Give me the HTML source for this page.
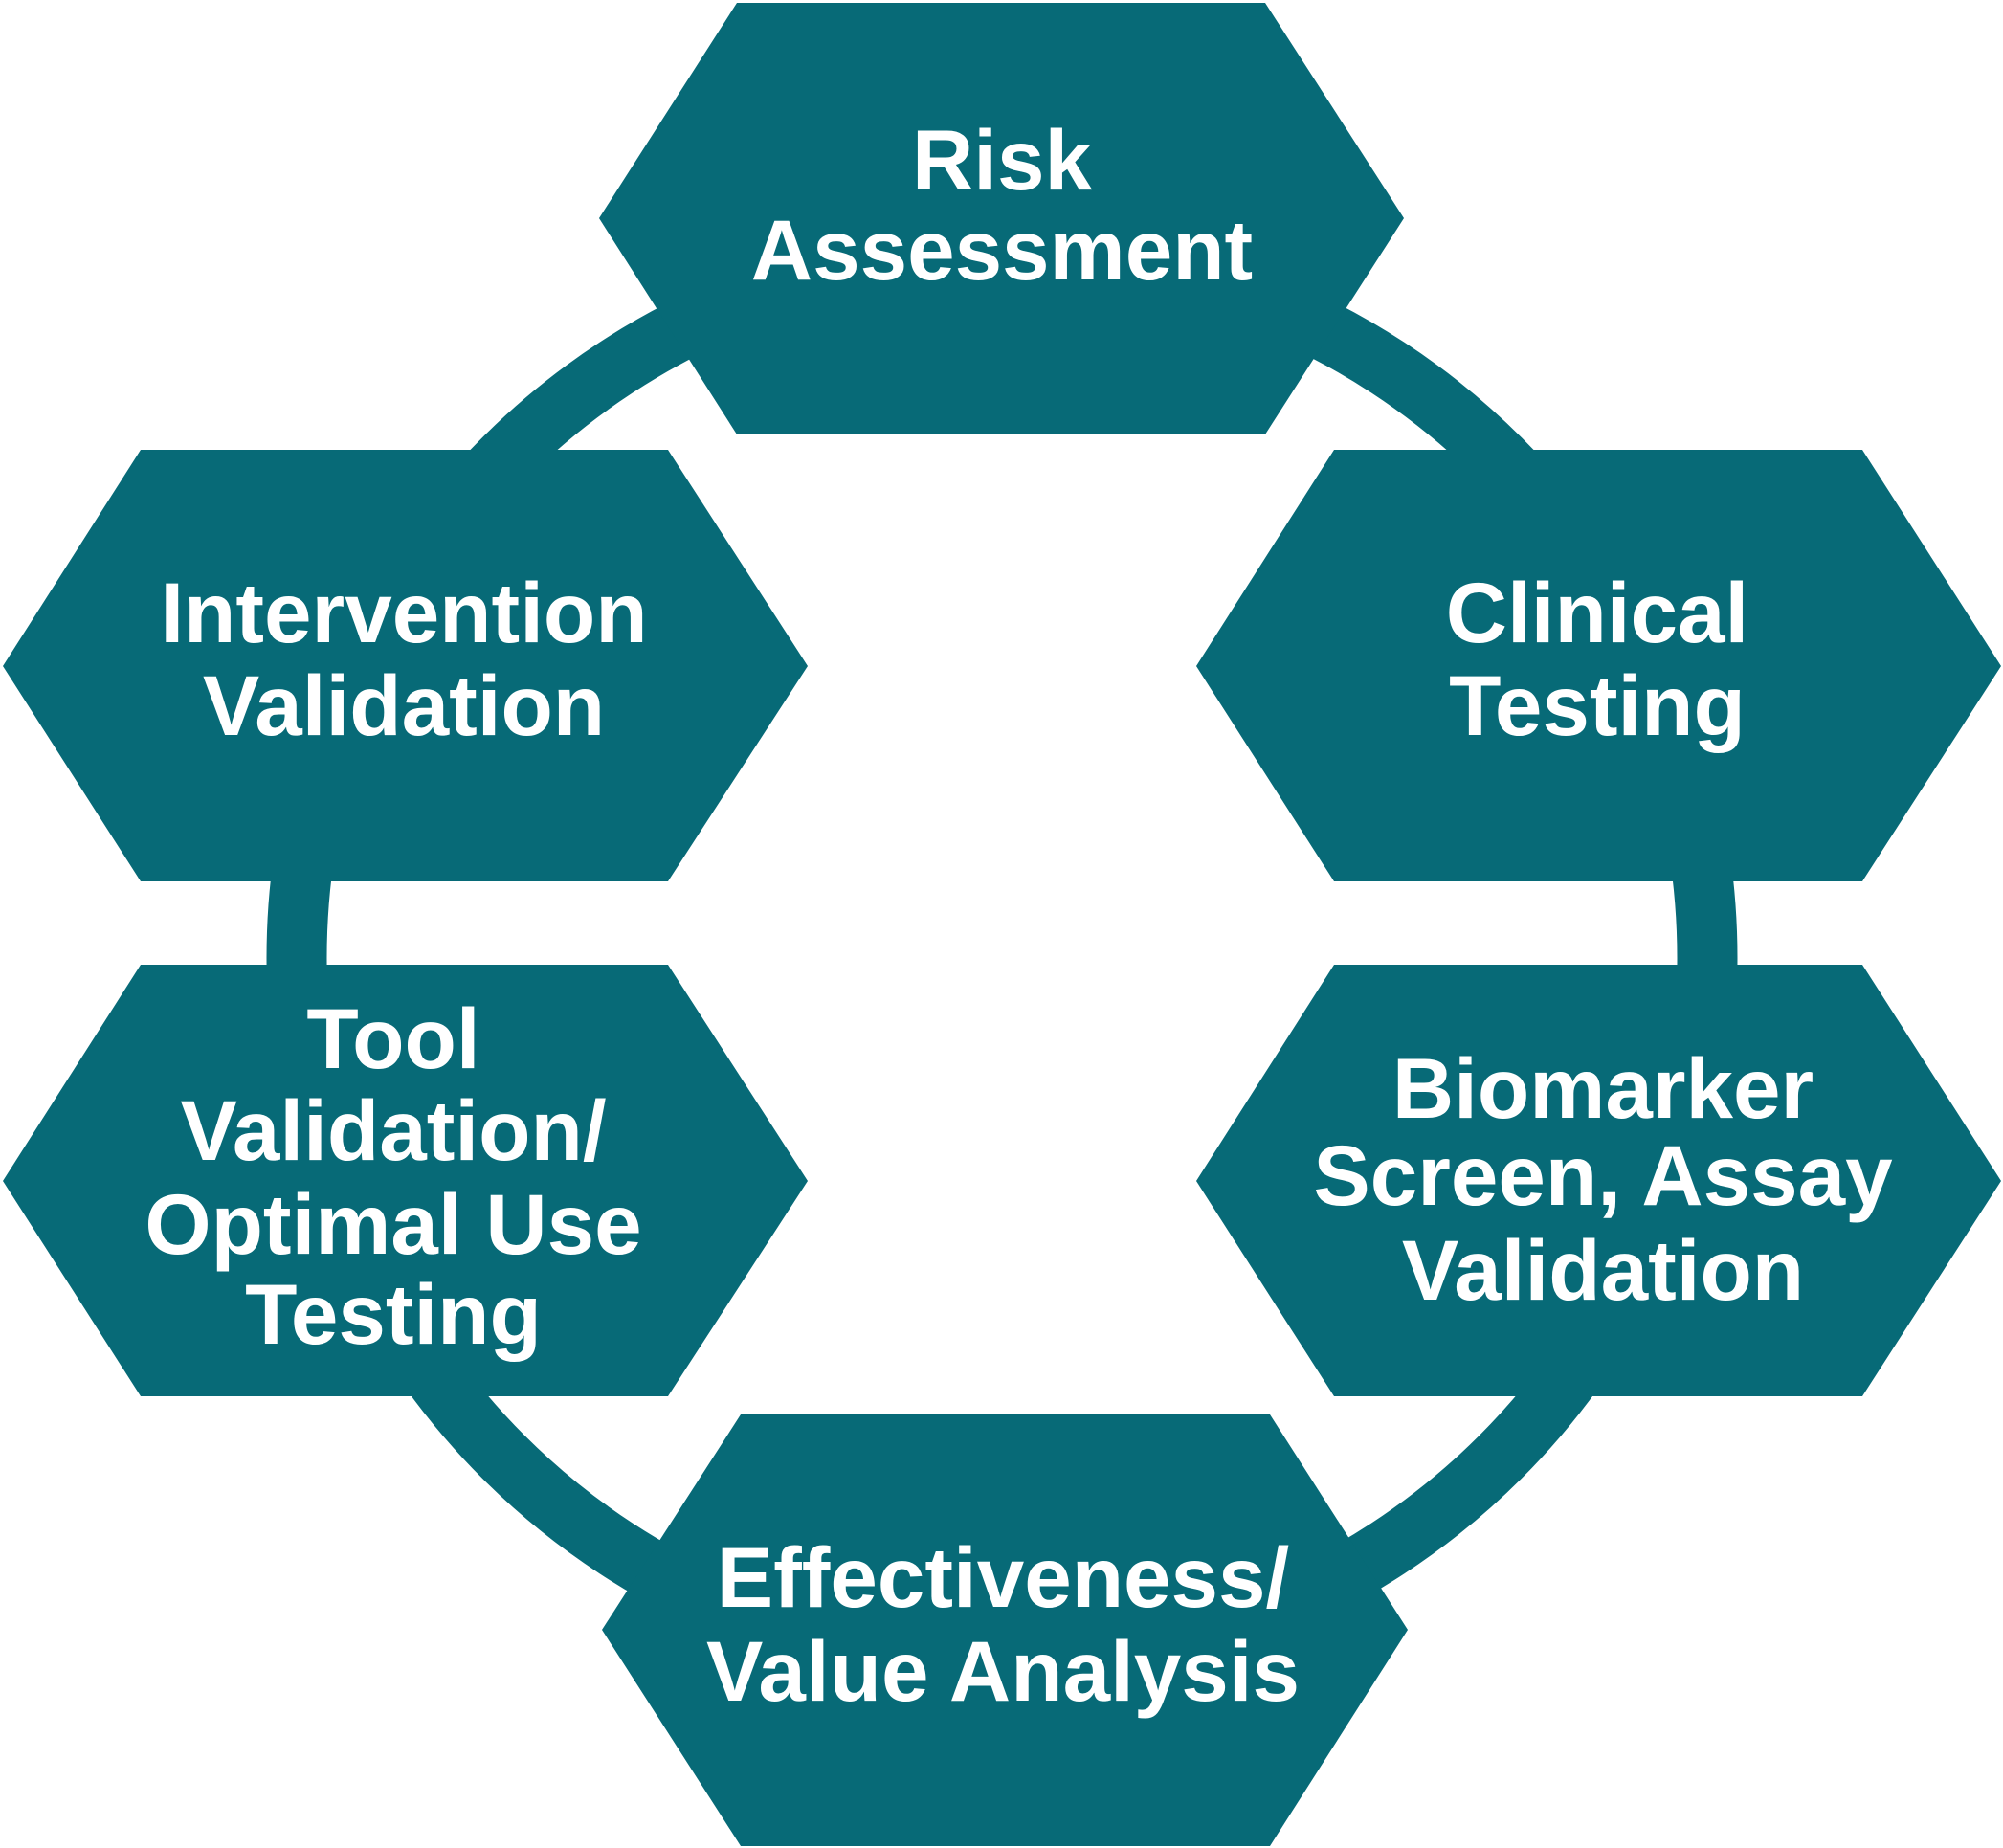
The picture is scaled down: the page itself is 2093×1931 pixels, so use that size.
<!DOCTYPE html>
<html><head><meta charset="utf-8"><style>html,body{margin:0;padding:0;background:#fff}svg{display:block}</style></head>
<body>
<svg width="2093" height="1931" viewBox="0 0 2093 1931" xmlns="http://www.w3.org/2000/svg">
<circle cx="1047" cy="1001" r="737" fill="none" stroke="#076a77" stroke-width="63"/>
<g fill="#076a77">
<polygon points="770,3 1322,3 1467,228 1322,454 770,454 626,228"/>
<polygon points="147,470 698,470 844,696 698,921 147,921 3,696"/>
<polygon points="1394,470 1946,470 2091,696 1946,921 1394,921 1250,696"/>
<polygon points="147,1008 698,1008 844,1234 698,1459 147,1459 3,1234"/>
<polygon points="1394,1008 1946,1008 2091,1234 1946,1459 1394,1459 1250,1234"/>
<polygon points="774,1478 1327,1478 1471,1703 1327,1929 774,1929 629,1703"/>
</g>
<g fill="#fff" font-family="Liberation Sans, sans-serif" font-weight="bold" font-size="89" text-anchor="middle">
<text x="1047" y="198">Risk</text><text x="1047" y="292">Assessment</text>
<text x="422" y="671">Intervention</text><text x="422" y="768">Validation</text>
<text x="1669" y="671">Clinical</text><text x="1669" y="768">Testing</text>
<text x="411" y="1116">Tool</text><text x="411" y="1212">Validation/</text><text x="411" y="1310">Optimal Use</text><text x="411" y="1404">Testing</text>
<text x="1675" y="1168">Biomarker</text><text x="1675" y="1259">Screen, Assay</text><text x="1675" y="1358">Validation</text>
<text x="1048" y="1679">Effectiveness/</text><text x="1048" y="1777">Value Analysis</text>
</g>
</svg>
</body></html>
